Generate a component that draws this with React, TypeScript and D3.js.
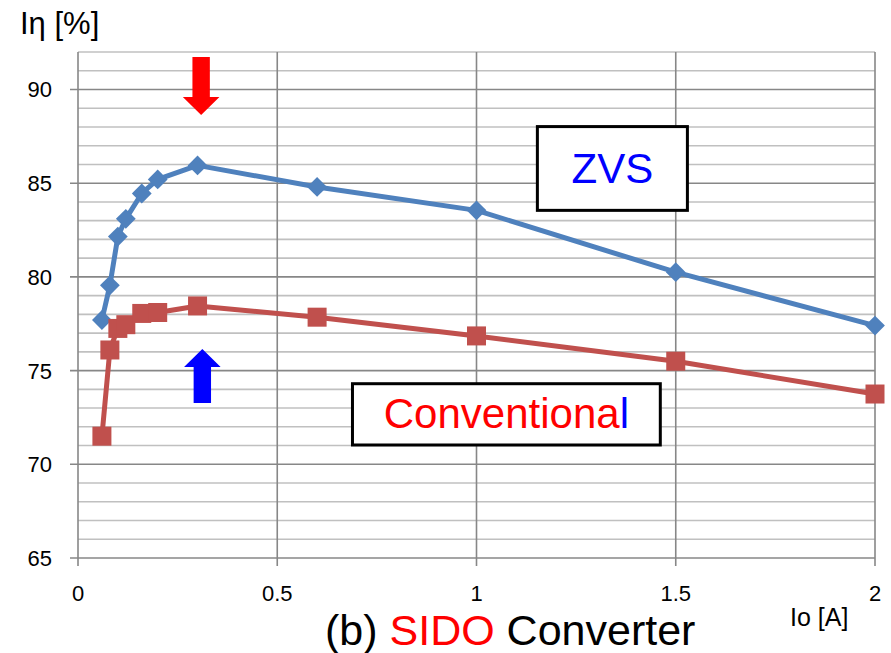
import React from "react";
import * as d3 from "d3";

// Output current Io [A]
const currents = [0.06, 0.08, 0.1, 0.12, 0.16, 0.2, 0.3, 0.6, 1.0, 1.5, 2.0];
// Efficiency [%] for each converter
const zvsEff = [77.7, 79.55, 82.15, 83.1, 84.45, 85.2, 85.95, 84.8, 83.55, 80.25, 77.4];
const convEff = [71.5, 76.1, 77.25, 77.45, 78.05, 78.1, 78.45, 77.85, 76.85, 75.5, 73.75];

const xTicks = [0, 0.5, 1, 1.5, 2];
const xTickLabels = ["0", "0.5", "1", "1.5", "2"];
const yMajorTicks = [65, 70, 75, 80, 85, 90];
const yMinorTicks = [66, 67, 68, 69, 71, 72, 73, 74, 76, 77, 78, 79, 81, 82, 83, 84, 86, 87, 88, 89, 91, 92];

const W = 891;
const H = 653;
const left = 78;
const right = 875;
const top = 52;
const bottom = 558;

const BLUE = "#4f81bd";
const RED = "#c0504d";
const MAJOR = "#878787";
const MINOR = "#c0c0c0";
const SANS = "'Liberation Sans', Arial, sans-serif";

export default function App() {
  const x = d3.scaleLinear().domain([0, 2]).range([left, right]);
  const y = d3.scaleLinear().domain([65, 92]).range([bottom, top]);

  const zvs = currents.map((c, i) => [c, zvsEff[i]] as [number, number]);
  const conv = currents.map((c, i) => [c, convEff[i]] as [number, number]);
  const line = d3
    .line<[number, number]>()
    .x((d) => x(d[0]))
    .y((d) => y(d[1]));

  const diamond = d3.symbol().type(d3.symbolDiamond2).size(250)();

  // Vertical block arrow between two efficiency levels at a given current
  const arrow = (cx: number, from: number, to: number) => {
    const xc = x(cx);
    const y0 = y(from);
    const y1 = y(to);
    const dir = Math.sign(y1 - y0);
    const headLen = 18 * dir;
    const yb = y1 - headLen;
    const sw = 8.7;
    const hw = 18.3;
    return `M${xc - sw},${y0}L${xc + sw},${y0}L${xc + sw},${yb}L${xc + hw},${yb}L${xc},${y1}L${xc - hw},${yb}L${xc - sw},${yb}Z`;
  };

  const box = (x0: number, x1: number, y0: number, y1: number) => ({
    x: x(x0) + 1.5,
    y: y(y0) + 1.5,
    w: x(x1) - x(x0) - 3,
    h: y(y1) - y(y0) - 3,
  });
  const zvsBox = box(1.149, 1.533, 88.1, 83.47);
  const convBox = box(0.685, 1.465, 74.38, 70.95);

  return (
    <svg
      width={W}
      height={H}
      style={{ position: "absolute", left: 0, top: 0, background: "#fff" }}
    >
      <rect width={W} height={H} fill="#fff" />

      {/* minor horizontal grid */}
      {yMinorTicks.map((t) => (
        <line key={"mi" + t} x1={left} x2={right} y1={y(t)} y2={y(t)} stroke={MINOR} strokeWidth={1.6} />
      ))}
      {/* major horizontal grid and ticks */}
      {yMajorTicks.map((t) => (
        <line key={"ma" + t} x1={left - 8} x2={right} y1={y(t)} y2={y(t)} stroke={MAJOR} strokeWidth={1.6} />
      ))}
      {/* vertical grid and ticks */}
      {xTicks.map((t) => (
        <line key={"v" + t} x1={x(t)} x2={x(t)} y1={top} y2={bottom + 8} stroke={MAJOR} strokeWidth={1.6} />
      ))}

      {/* y tick labels */}
      {yMajorTicks.map((t) => (
        <text key={"yl" + t} x={52} y={y(t)} dy="0.36em" textAnchor="end" fontFamily={SANS} fontSize={22} fill="#000">
          {t}
        </text>
      ))}
      {/* x tick labels */}
      {xTicks.map((t, i) => (
        <text key={"xl" + t} x={x(t)} y={601} textAnchor="middle" fontFamily={SANS} fontSize={22} fill="#000">
          {xTickLabels[i]}
        </text>
      ))}

      <text x={20} y={34} fontFamily={SANS} fontSize={31} fill="#000">
        Iη [%]
      </text>
      <text x={790} y={626} fontFamily={SANS} fontSize={25} fill="#000">
        Io [A]
      </text>

      {/* series */}
      <path d={line(zvs) || ""} fill="none" stroke={BLUE} strokeWidth={5} strokeLinejoin="round" />
      {zvs.map((d, i) => (
        <path key={"z" + i} d={diamond || ""} transform={`translate(${x(d[0])},${y(d[1])})`} fill={BLUE} />
      ))}
      <path d={line(conv) || ""} fill="none" stroke={RED} strokeWidth={5} strokeLinejoin="round" />
      {conv.map((d, i) => (
        <rect key={"c" + i} x={x(d[0]) - 9.5} y={y(d[1]) - 9.5} width={19} height={19} fill={RED} />
      ))}

      {/* arrows marking the peak */}
      <path d={arrow(0.309, 91.73, 88.64)} fill="#ff0000" />
      <path d={arrow(0.312, 73.27, 76.15)} fill="#0000ff" />

      {/* labels */}
      <rect x={zvsBox.x} y={zvsBox.y} width={zvsBox.w} height={zvsBox.h} fill="#fff" stroke="#000" strokeWidth={3} />
      <text x={zvsBox.x + zvsBox.w / 2} y={183} textAnchor="middle" fontFamily={SANS} fontSize={42} fill="#0000ff">
        ZVS
      </text>
      <rect x={convBox.x} y={convBox.y} width={convBox.w} height={convBox.h} fill="#fff" stroke="#000" strokeWidth={3} />
      <text x={convBox.x + convBox.w / 2} y={428} textAnchor="middle" fontFamily={SANS} fontSize={42} fill="#ff0000">
        Conventiona<tspan fill="#0000ff">l</tspan>
      </text>

      <text x={325} y={645} fontFamily={SANS} fontSize={43} fill="#000">
        (b) <tspan fill="#ff0000">SIDO</tspan> Converter
      </text>
    </svg>
  );
}
